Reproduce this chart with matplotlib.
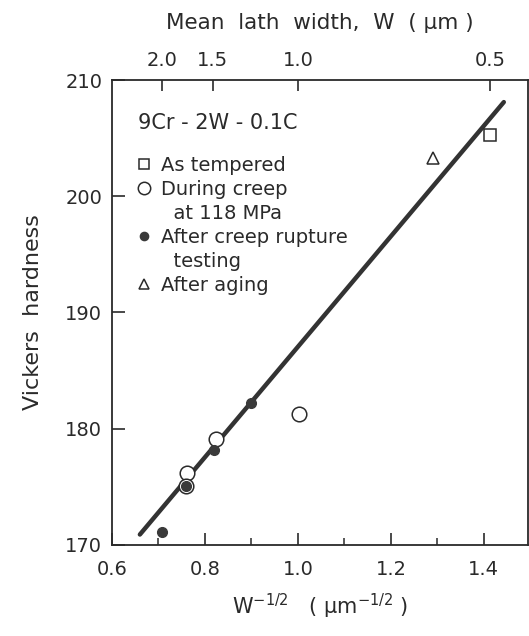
import numpy as np
import matplotlib
matplotlib.use("Agg")
import matplotlib.pyplot as plt
from matplotlib.lines import Line2D

# Vickers hardness vs W^-1/2 (um^-1/2)
tempered_x = [1.413]
tempered_hv = [205.3]
creep_x = [0.762, 0.760, 0.823, 1.002]
creep_hv = [176.2, 175.1, 179.1, 181.3]
rupture_x = [0.707, 0.760, 0.819, 0.898]
rupture_hv = [171.1, 175.1, 178.2, 182.2]
aging_x = [1.291]
aging_hv = [203.3]

# regression line end points
fit_x = [0.660, 1.443]
fit_hv = [170.9, 208.1]

# top axis: mean lath width W (um)
lath_w = np.array([2.0, 1.5, 1.0, 0.5])
lath_labels = ["2.0", "1.5", "1.0", "0.5"]

x_ticks = [0.6, 0.8, 1.0, 1.2, 1.4]
x_minor = [0.7, 0.9, 1.1, 1.3]
y_ticks = [170, 180, 190, 200, 210]

ink = "#2a2a2a"
plt.rcParams["font.family"] = ["DejaVu Sans"]
plt.rcParams["text.color"] = ink
plt.rcParams["axes.labelcolor"] = ink
plt.rcParams["xtick.color"] = ink
plt.rcParams["ytick.color"] = ink

fig = plt.figure(figsize=(5.29, 6.36), dpi=100)
ax = fig.add_axes([0.2117, 0.1431, 0.7864, 0.7311])

ax.plot(fit_x, fit_hv, color="#333333", linewidth=3.2, solid_capstyle="round", zorder=2)

h_sq, = ax.plot(tempered_x, tempered_hv, ls="none", marker="s", ms=8, mfc="white",
                mec=ink, mew=1.1, label="As tempered", zorder=3)
h_op, = ax.plot(creep_x, creep_hv, ls="none", marker="o", ms=10.5, mfc="white",
                mec=ink, mew=1.1, label="During creep", zorder=3)
h_fi, = ax.plot(rupture_x, rupture_hv, ls="none", marker="o", ms=7, mfc="#3a3a3a",
                mec="#3a3a3a", mew=1.0, label="After creep rupture", zorder=4)
h_tr, = ax.plot(aging_x, aging_hv, ls="none", marker="^", ms=9, mfc="white",
                mec=ink, mew=1.1, label="After aging", zorder=3)

blank = Line2D([], [], ls="none", marker="none")
handles = [h_sq, h_op, blank, h_fi, blank, h_tr]
labels = ["As tempered", "During creep", "  at 118 MPa",
          "After creep rupture", "  testing", "After aging"]
leg = ax.legend(handles, labels, loc="upper left", bbox_to_anchor=(0.045, 0.945),
                frameon=False, fontsize=14, handlelength=0.6, handletextpad=0.55,
                labelspacing=0.26, borderaxespad=0, title="9Cr - 2W - 0.1C",
                title_fontsize=15, alignment="left", markerscale=0.85)
leg._legend_box.sep = 16

ax.set_xlim(0.6, 1.495)
ax.set_ylim(170, 210)
ax.set_xticks(x_ticks)
ax.set_xticks(x_minor, minor=True)
ax.set_yticks(y_ticks)
ax.tick_params(axis="both", which="major", direction="in", length=9, width=1.2,
               labelsize=14, pad=7)
ax.tick_params(axis="x", which="minor", direction="in", length=5, width=1.1)
ax.tick_params(axis="x", pad=11)
for s in ax.spines.values():
    s.set_linewidth(1.3)
    s.set_color(ink)

ax.set_xlabel(r"$\mathregular{W^{-1/2}}$   ( μm$^{\mathregular{-1/2}}$ )",
              fontsize=15, labelpad=9)
ax.set_ylabel("Vickers  hardness", fontsize=16, labelpad=16)

ax_top = ax.twiny()
ax_top.set_xlim(ax.get_xlim())
ax_top.set_xticks(1 / np.sqrt(lath_w))
ax_top.set_xticklabels(lath_labels)
ax_top.tick_params(axis="x", direction="in", length=8, width=1.2, labelsize=14, pad=7)
ax_top.set_xlabel("Mean  lath  width,  W  ( μm )", fontsize=15.5, labelpad=16)
for s in ax_top.spines.values():
    s.set_visible(False)

fig.savefig("out.png", dpi=100)
